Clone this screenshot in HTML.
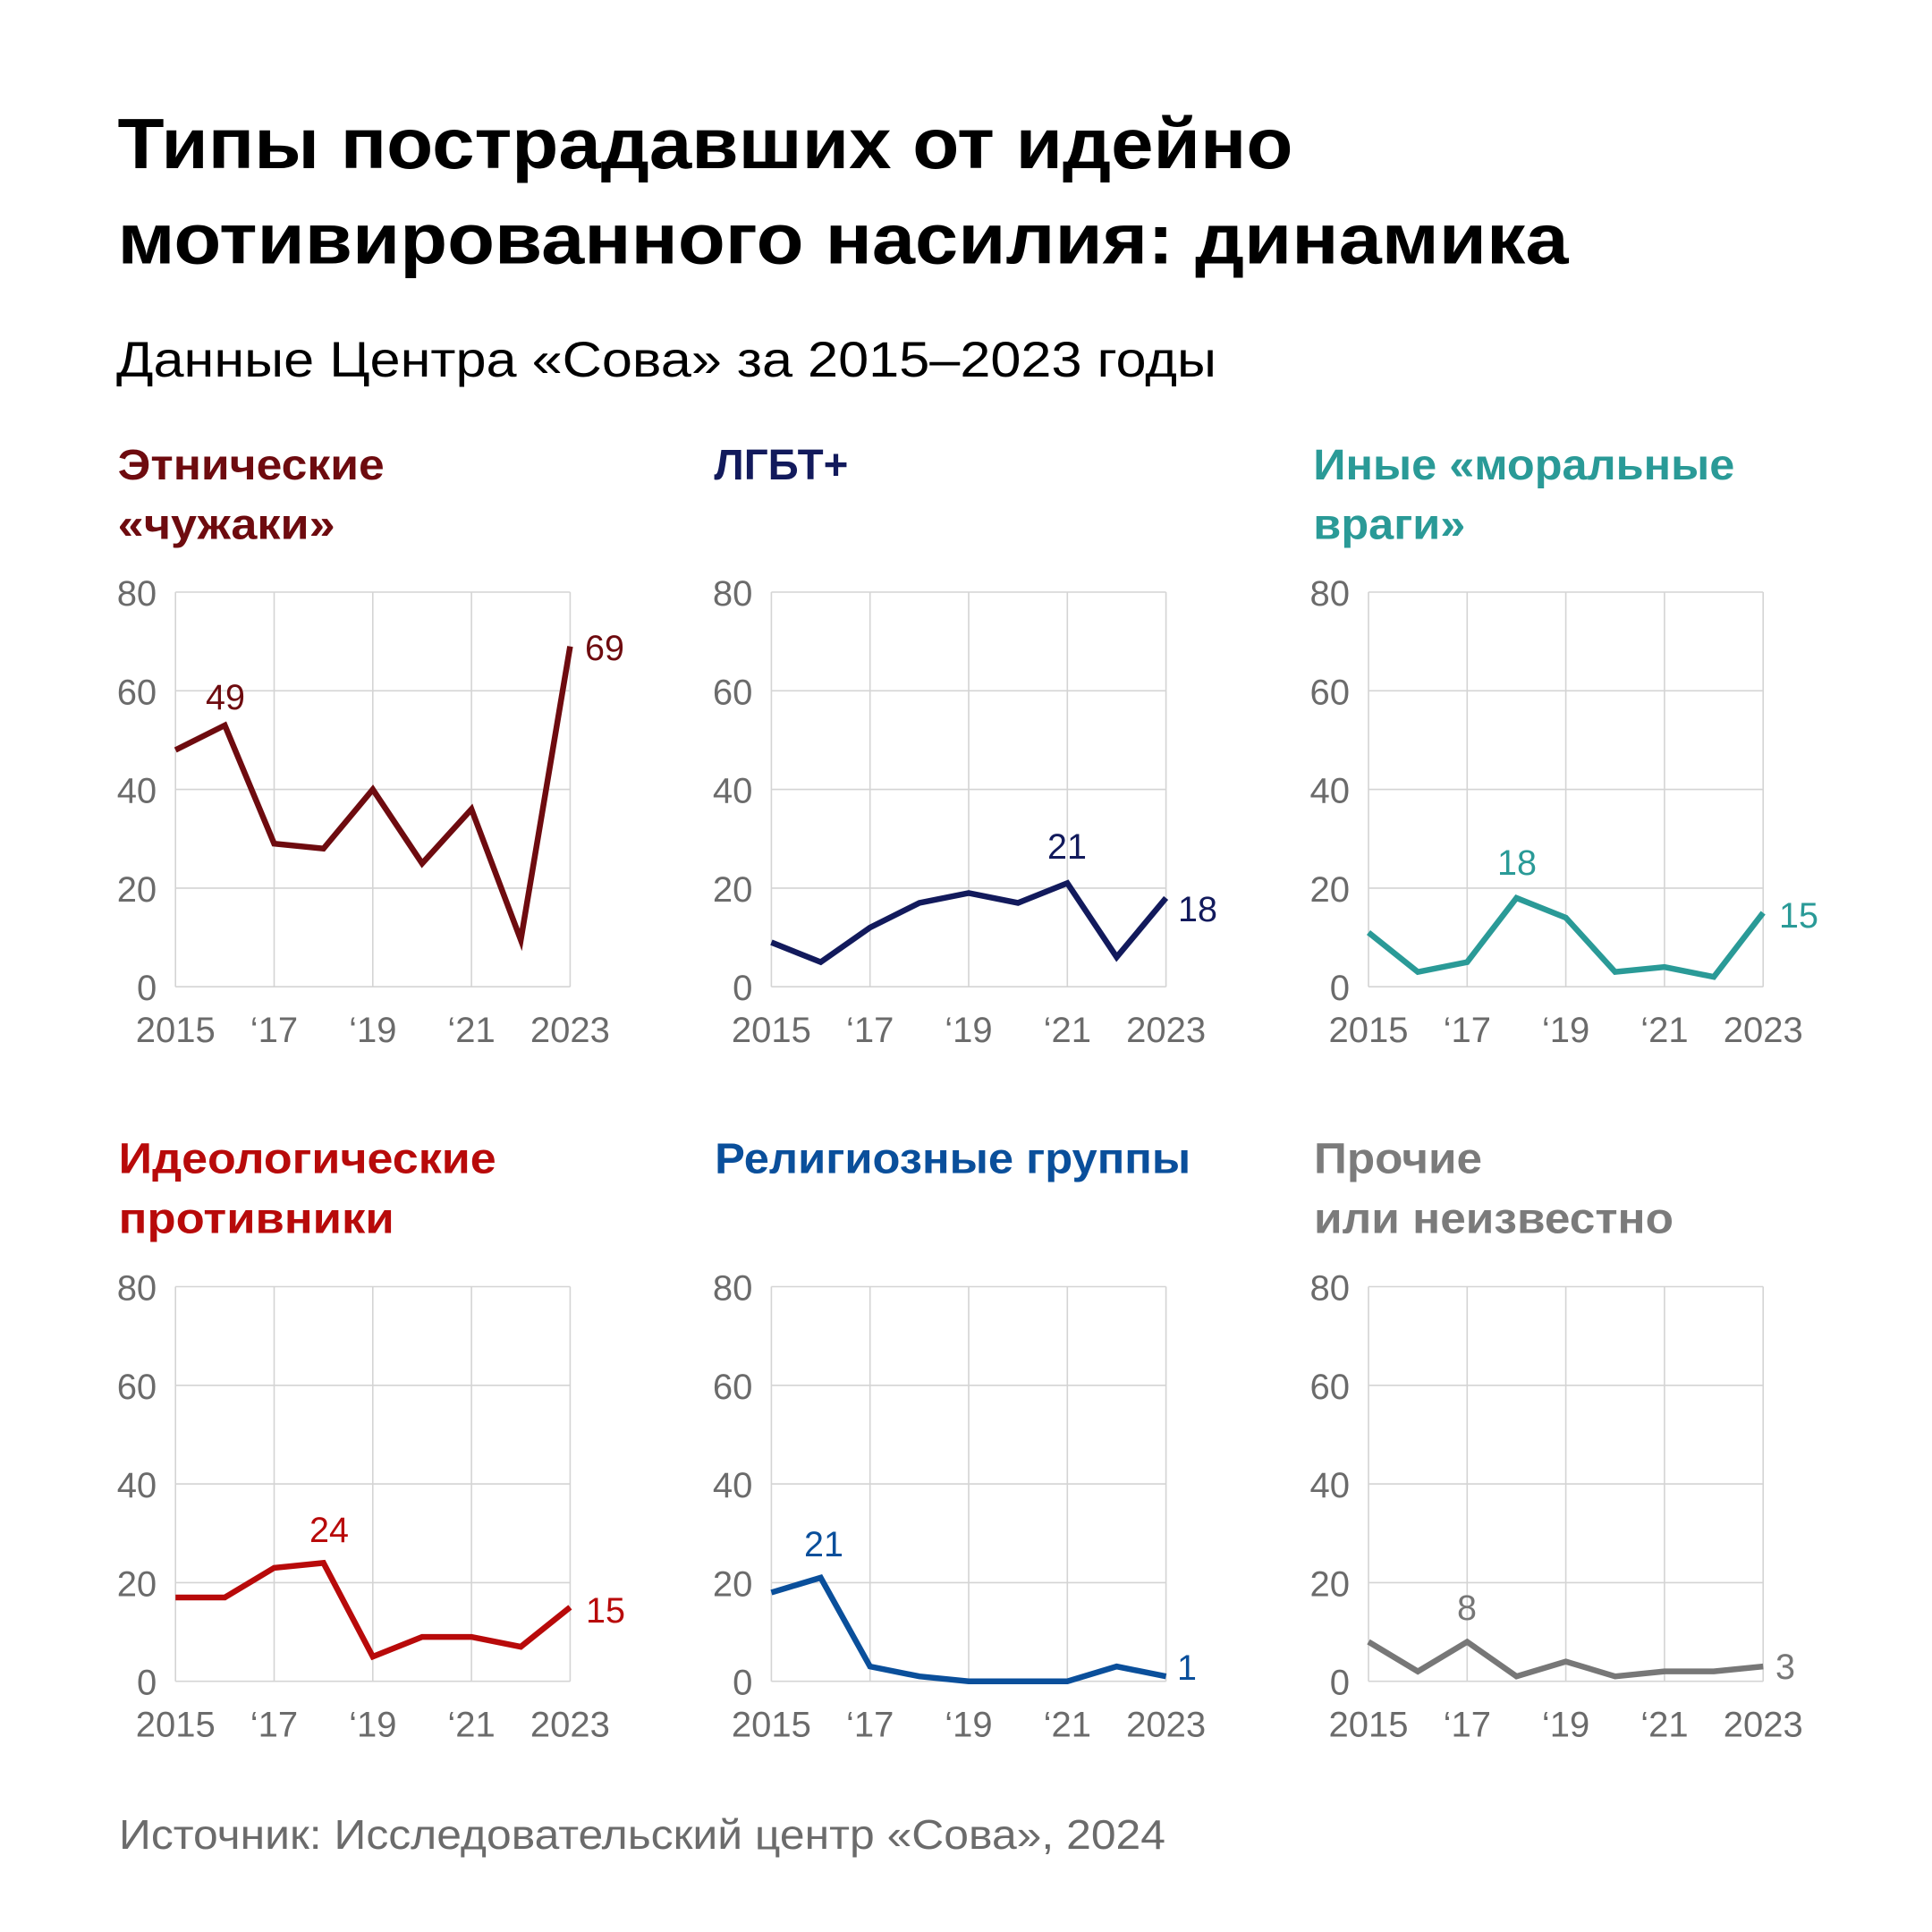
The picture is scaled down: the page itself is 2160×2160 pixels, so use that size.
<!DOCTYPE html>
<html>
<head>
<meta charset="utf-8">
<style>
html,body{margin:0;padding:0;background:#fff;}
svg{display:block;}
</style>
</head>
<body>
<svg width="2160" height="2160" viewBox="0 0 2160 2160" xmlns="http://www.w3.org/2000/svg" font-family="'Liberation Sans', 'DejaVu Sans', sans-serif">
<rect width="2160" height="2160" fill="#fff"/>
<defs>
<path id="grid" d="M0 0H441.2M0 110.3H441.2M0 220.6H441.2M0 330.9H441.2M0 441.2H441.2M0 0V441.2M110.3 0V441.2M220.6 0V441.2M330.9 0V441.2M441.2 0V441.2" fill="none" stroke="#d4d4d4" stroke-width="1.6"/>
</defs>

<!-- Title -->
<g font-weight="700" font-size="80" fill="#000">
<text x="131.5" y="188" textLength="1314" lengthAdjust="spacingAndGlyphs">Типы пострадавших от идейно</text>
<text x="131.5" y="294.5" textLength="1622" lengthAdjust="spacingAndGlyphs">мотивированного насилия: динамика</text>
</g>
<text x="130" y="421" font-size="56" fill="#000" textLength="1230" lengthAdjust="spacingAndGlyphs">Данные Центра «Сова» за 2015–2023 годы</text>

<!-- Panel titles -->
<g font-weight="700" font-size="48">
<text x="131.7" y="536" fill="#6e0b0f" textLength="298" lengthAdjust="spacingAndGlyphs">Этнические</text>
<text x="131.7" y="602.5" fill="#6e0b0f" textLength="243" lengthAdjust="spacingAndGlyphs">«чужаки»</text>
<text x="798.4" y="536" fill="#121a5c" textLength="150" lengthAdjust="spacingAndGlyphs">ЛГБТ+</text>
<text x="1468.3" y="536" fill="#2a9a97" textLength="471" lengthAdjust="spacingAndGlyphs">Иные «моральные</text>
<text x="1468.3" y="602.5" fill="#2a9a97" textLength="170" lengthAdjust="spacingAndGlyphs">враги»</text>

<text x="132.7" y="1311.5" fill="#b80a0a" textLength="422" lengthAdjust="spacingAndGlyphs">Идеологические</text>
<text x="132.7" y="1378.5" fill="#b80a0a" textLength="308" lengthAdjust="spacingAndGlyphs">противники</text>
<text x="799.2" y="1311.5" fill="#0a4f9b" textLength="532" lengthAdjust="spacingAndGlyphs">Религиозные группы</text>
<text x="1469" y="1311.5" fill="#7b7b7b" textLength="188" lengthAdjust="spacingAndGlyphs">Прочие</text>
<text x="1469" y="1378.5" fill="#7b7b7b" textLength="402" lengthAdjust="spacingAndGlyphs">или неизвестно</text>
</g>

<!-- Grids -->
<use href="#grid" transform="translate(196.2,662)"/>
<use href="#grid" transform="translate(862.4,662)"/>
<use href="#grid" transform="translate(1530,662)"/>
<use href="#grid" transform="translate(196.2,1438.5)"/>
<use href="#grid" transform="translate(862.4,1438.5)"/>
<use href="#grid" transform="translate(1530,1438.5)"/>

<!-- Y tick labels -->
<g font-size="40" fill="#6b6b6b" text-anchor="end">
<text x="175.2" y="677">80</text><text x="175.2" y="787.3">60</text><text x="175.2" y="897.6">40</text><text x="175.2" y="1007.9">20</text><text x="175.2" y="1118.2">0</text>
<text x="841.4" y="677">80</text><text x="841.4" y="787.3">60</text><text x="841.4" y="897.6">40</text><text x="841.4" y="1007.9">20</text><text x="841.4" y="1118.2">0</text>
<text x="1509" y="677">80</text><text x="1509" y="787.3">60</text><text x="1509" y="897.6">40</text><text x="1509" y="1007.9">20</text><text x="1509" y="1118.2">0</text>
<text x="175.2" y="1453.5">80</text><text x="175.2" y="1563.8">60</text><text x="175.2" y="1674.1">40</text><text x="175.2" y="1784.4">20</text><text x="175.2" y="1894.7">0</text>
<text x="841.4" y="1453.5">80</text><text x="841.4" y="1563.8">60</text><text x="841.4" y="1674.1">40</text><text x="841.4" y="1784.4">20</text><text x="841.4" y="1894.7">0</text>
<text x="1509" y="1453.5">80</text><text x="1509" y="1563.8">60</text><text x="1509" y="1674.1">40</text><text x="1509" y="1784.4">20</text><text x="1509" y="1894.7">0</text>
</g>

<!-- X tick labels -->
<g font-size="40" fill="#6b6b6b" text-anchor="middle">
<text x="196.2" y="1165">2015</text><text x="306.5" y="1165">‘17</text><text x="416.8" y="1165">‘19</text><text x="527.1" y="1165">‘21</text><text x="637.4" y="1165">2023</text>
<text x="862.4" y="1165">2015</text><text x="972.7" y="1165">‘17</text><text x="1083" y="1165">‘19</text><text x="1193.3" y="1165">‘21</text><text x="1303.6" y="1165">2023</text>
<text x="1530" y="1165">2015</text><text x="1640.3" y="1165">‘17</text><text x="1750.6" y="1165">‘19</text><text x="1860.9" y="1165">‘21</text><text x="1971.2" y="1165">2023</text>
<text x="196.2" y="1941.5">2015</text><text x="306.5" y="1941.5">‘17</text><text x="416.8" y="1941.5">‘19</text><text x="527.1" y="1941.5">‘21</text><text x="637.4" y="1941.5">2023</text>
<text x="862.4" y="1941.5">2015</text><text x="972.7" y="1941.5">‘17</text><text x="1083" y="1941.5">‘19</text><text x="1193.3" y="1941.5">‘21</text><text x="1303.6" y="1941.5">2023</text>
<text x="1530" y="1941.5">2015</text><text x="1640.3" y="1941.5">‘17</text><text x="1750.6" y="1941.5">‘19</text><text x="1860.9" y="1941.5">‘21</text><text x="1971.2" y="1941.5">2023</text>
</g>

<!-- Series -->
<g fill="none" stroke-width="6.5" stroke-linejoin="miter" stroke-miterlimit="10" stroke-linecap="butt">
<g transform="translate(196.2,1103.2) scale(55.15,-5.515)">
<polyline vector-effect="non-scaling-stroke" stroke="#6e0b0f" points="0,48 1,53 2,29 3,28 4,40 5,25 6,36 7,9.5 8,69"/>
</g>
<g transform="translate(862.4,1103.2) scale(55.15,-5.515)">
<polyline vector-effect="non-scaling-stroke" stroke="#121a5c" points="0,9 1,5 2,12 3,17 4,19 5,17 6,21 7,6 8,18"/>
</g>
<g transform="translate(1530,1103.2) scale(55.15,-5.515)">
<polyline vector-effect="non-scaling-stroke" stroke="#2a9a97" points="0,11 1,3 2,5 3,18 4,14 5,3 6,4 7,2 8,15"/>
</g>
<g transform="translate(196.2,1879.7) scale(55.15,-5.515)">
<polyline vector-effect="non-scaling-stroke" stroke="#b80a0a" points="0,17 1,17 2,23 3,24 4,5 5,9 6,9 7,7 8,15"/>
</g>
<g transform="translate(862.4,1879.7) scale(55.15,-5.515)">
<polyline vector-effect="non-scaling-stroke" stroke="#0a4f9b" points="0,18 1,21 2,3 3,1 4,0 5,0 6,0 7,3 8,1"/>
</g>
<g transform="translate(1530,1879.7) scale(55.15,-5.515)">
<polyline vector-effect="non-scaling-stroke" stroke="#777777" points="0,8 1,2 2,8 3,1 4,4 5,1 6,2 7,2 8,3"/>
</g>
</g>

<!-- Data labels -->
<g font-size="39.5">
<text x="252" y="793" text-anchor="middle" fill="#6e0b0f">49</text>
<text x="654" y="738" fill="#6e0b0f">69</text>
<text x="1193" y="960" text-anchor="middle" fill="#121a5c">21</text>
<text x="1317" y="1030" fill="#121a5c">18</text>
<text x="1696" y="978" text-anchor="middle" fill="#2a9a97">18</text>
<text x="1989" y="1037" fill="#2a9a97">15</text>
<text x="368" y="1724" text-anchor="middle" fill="#b80a0a">24</text>
<text x="655" y="1814" fill="#b80a0a">15</text>
<text x="921" y="1740" text-anchor="middle" fill="#0a4f9b">21</text>
<text x="1316" y="1878" fill="#0a4f9b">1</text>
<text x="1640" y="1811" text-anchor="middle" fill="#777777">8</text>
<text x="1985" y="1877" fill="#777777">3</text>
</g>

<!-- Footer -->
<text x="133" y="2067" font-size="46" fill="#6b6b6b" textLength="1170" lengthAdjust="spacingAndGlyphs">Источник: Исследовательский центр «Сова», 2024</text>
</svg>
</body>
</html>
